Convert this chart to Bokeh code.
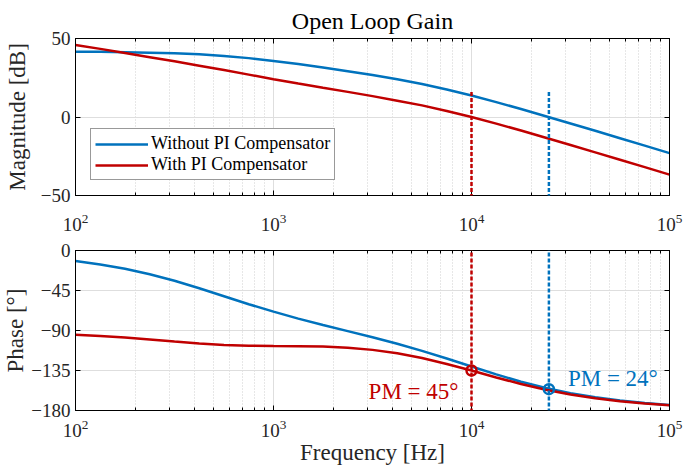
from bokeh.plotting import figure
from bokeh.layouts import column
from bokeh.models import (Range1d, FixedTicker, LogAxis, LinearAxis, Label,
                          Arrow, Legend, LegendItem, CustomJSTickFormatter)
from bokeh.embed import file_html
from bokeh.resources import INLINE

# Frequency grid of the open-loop response (Hz)
freq_hz = [100, 133.35, 177.83, 237.14, 316.23, 421.70, 562.34, 749.89,
           1000, 1333.5, 1778.3, 2371.4, 3162.3, 4217.0, 5623.4, 7498.9,
           10000, 13335, 17783, 23714, 31623, 42170, 56234, 74989, 100000]

# Magnitude (dB)
mag_without_db = [41.6, 41.5, 41.3, 41.0, 40.6, 39.9, 38.9, 37.5,
                  35.7, 33.7, 31.5, 29.2, 26.7, 24.0, 21.0, 17.5,
                  13.7, 9.5, 5.1, 0.5, -4.1, -8.8, -13.5, -18.2, -23.0]
mag_with_db = [45.9, 43.4, 40.7, 38.1, 35.5, 32.7, 29.9, 27.0,
               24.1, 21.3, 18.6, 16.0, 13.3, 10.4, 7.4, 3.8,
               0.0, -4.2, -8.6, -13.2, -17.8, -22.5, -27.2, -31.9, -36.7]

# Phase (deg)
phase_without_deg = [-11.9, -15.7, -20.5, -26.7, -34.0, -42.4, -51.4, -60.4,
                     -68.8, -76.6, -83.8, -90.7, -97.6, -104.9, -112.9, -121.5,
                     -130.5, -139.4, -147.6, -154.7, -160.6, -165.2, -168.8,
                     -171.6, -173.7]
phase_with_deg = [-94.7, -96.2, -98.0, -100.2, -102.5, -104.6, -106.3, -107.2,
                  -107.5, -107.6, -108.0, -109.3, -111.8, -115.7, -121.0, -127.6,
                  -135.0, -142.8, -150.2, -156.6, -162.0, -166.3, -169.6,
                  -172.2, -174.1]

# Gain crossover frequency (Hz) and phase margin (deg): [without PI, with PI]
crossover_hz = [24600, 10000]
phase_margin_deg = [24, 45]
marker_top_db = 16

series_names = ["Without PI Compensator", "With PI Compensator"]
mag_ticks = [-50, 0, 50]
phase_ticks = [-180, -135, -90, -45, 0]
decades = [1e2, 1e3, 1e4, 1e5]
minor_decade_ticks = [m * d for d in decades[:-1] for m in range(2, 10)]

BLUE = "#0072BD"
RED = "#C00000"
FONT = "Liberation Serif"
TXT = "#262626"
LW = 2.5
colors = [BLUE, RED]

blank = CustomJSTickFormatter(code="return ''")


def style_axes(p, y_ticks):
    """Style the bottom/left axes and add a mirrored tick box on top/right."""
    xt = FixedTicker(ticks=decades, minor_ticks=minor_decade_ticks)
    yt = FixedTicker(ticks=y_ticks)
    bottom, left = p.below[0], p.left[0]
    bottom.ticker = xt
    left.ticker = yt
    for ax in (bottom, left):
        ax.axis_line_color = "black"
        ax.major_tick_line_color = "black"
        ax.minor_tick_line_color = "black"
        ax.major_tick_in = 5
        ax.major_tick_out = 0
        ax.minor_tick_in = 3
        ax.minor_tick_out = 0
        ax.major_label_text_font = FONT
        ax.major_label_text_font_size = "19px"
        ax.major_label_text_color = TXT
        ax.axis_label_text_font = FONT
        ax.axis_label_text_font_size = "23px"
        ax.axis_label_text_font_style = "normal"
        ax.axis_label_text_color = TXT
    left.minor_tick_line_color = None
    top = LogAxis(ticker=xt, formatter=blank,
                  major_tick_in=5, major_tick_out=0, minor_tick_in=3,
                  minor_tick_out=0, axis_line_color="black",
                  major_label_standoff=0)
    right = LinearAxis(ticker=yt, formatter=blank,
                       major_tick_in=5, major_tick_out=0,
                       minor_tick_line_color=None, axis_line_color="black",
                       major_label_standoff=0)
    p.add_layout(top, "above")
    p.add_layout(right, "right")
    p.xgrid.ticker = xt
    p.ygrid.ticker = yt
    p.xgrid.grid_line_color = "#dedede"
    p.ygrid.grid_line_color = "#dedede"
    p.xgrid.minor_grid_line_color = "#cfcfcf"
    p.xgrid.minor_grid_line_dash = "1 2"
    p.outline_line_color = "black"
    return bottom, left


# ---- magnitude panel ----
pm = figure(width=683, height=233, x_axis_type="log",
            x_range=Range1d(1e2, 1e5), y_range=Range1d(-50, 50),
            output_backend="svg", toolbar_location=None,
            min_border_left=74, min_border_right=14,
            min_border_top=38, min_border_bottom=36,
            title="Open Loop Gain")
pm.title.text_font = FONT
pm.title.text_font_size = "24px"
pm.title.text_font_style = "normal"
pm.title.align = "center"
pm.title.text_color = "#000000"
pm_bottom, pm_left = style_axes(pm, mag_ticks)
pm_bottom.major_label_standoff = 18
pm_left.axis_label = "Magnitude [dB]"
pm_left.axis_label_standoff = 8

lines = []
for mags, c in zip([mag_without_db, mag_with_db], colors):
    lines.append(pm.line(freq_hz, mags, line_color=c, line_width=LW))

span_db = pm.y_range.end - pm.y_range.start
for fc, c in zip(crossover_hz, colors):
    pm.add_layout(Arrow(end=None, x_start=fc, y_start=marker_top_db,
                        x_end=fc, y_end=pm.y_range.start - span_db,
                        line_color=c, line_width=LW, line_dash="4 2"))

legend = Legend(items=[LegendItem(label=n, renderers=[r])
                       for n, r in zip(series_names, lines)],
                location=(15, 15), margin=0, padding=4, spacing=0,
                label_height=18, glyph_height=18, glyph_width=53,
                label_standoff=3, label_text_font=FONT,
                label_text_font_size="18px", label_text_color="#000000",
                border_line_color="#333333", border_line_width=1,
                background_fill_alpha=1)
pm.add_layout(legend)

# ---- phase panel ----
pp = figure(width=683, height=235, x_axis_type="log",
            x_range=pm.x_range, y_range=Range1d(-180, 0),
            output_backend="svg", toolbar_location=None,
            min_border_left=74, min_border_right=14,
            min_border_top=17, min_border_bottom=58)
pp_bottom, pp_left = style_axes(pp, phase_ticks)
pp_bottom.major_label_standoff = 9
pp_left.axis_label = "Phase [°]"
pp_left.axis_label_standoff = 0
pp_bottom.axis_label = "Frequency [Hz]"
pp_bottom.axis_label_standoff = 0

for ph, c in zip([phase_without_deg, phase_with_deg], colors):
    pp.line(freq_hz, ph, line_color=c, line_width=LW)

span_deg = pp.y_range.end - pp.y_range.start
for fc, c in zip(crossover_hz, colors):
    pp.add_layout(Arrow(end=None, x_start=fc, y_start=pp.y_range.end + span_deg,
                        x_end=fc, y_end=pp.y_range.start,
                        line_color=c, line_width=LW, line_dash="4 2"))

label_offsets = [(19, 11, "left"), (-13, -21, "right")]
for fc, pmd, c, (dx, dy, al) in zip(crossover_hz, phase_margin_deg, colors,
                                     label_offsets):
    ph_at = -180 + pmd
    pp.scatter([fc], [ph_at], marker="circle", size=10, fill_color=None,
               line_color=c, line_width=LW)
    pp.add_layout(Label(x=fc, y=ph_at, text=f"PM = {pmd}°", x_offset=dx,
                        y_offset=dy, text_align=al,
                        text_baseline="alphabetic", text_font=FONT,
                        text_font_size="23px", text_color=c))

layout = column(pm, pp, spacing=0)
open("out.html", "w").write(file_html(layout, INLINE))
